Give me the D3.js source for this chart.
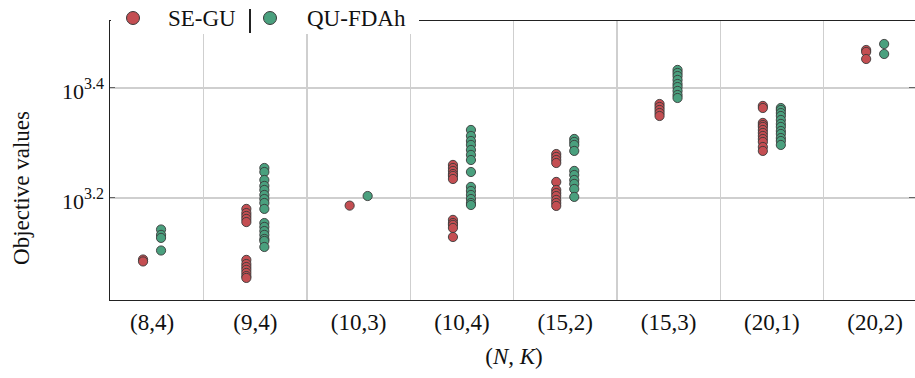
<!DOCTYPE html>
<html>
<head>
<meta charset="utf-8">
<script src="https://cdn.jsdelivr.net/npm/d3@7"></script>
<style>
body { margin: 0; background: #fff; }
text { fill: #111; }
line { shape-rendering: crispEdges; }
</style>
</head>
<body>
<div id="chart"></div>
<script>
// categories (N,K)
const categories = ["(8,4)", "(9,4)", "(10,3)", "(10,4)", "(15,2)", "(15,3)", "(20,1)", "(20,2)"];

// objective values per category
const seguValues = [
    [1225, 1215],
    [1514, 1488, 1470, 1452, 1433, 1223, 1202, 1187, 1173, 1158, 1143, 1134],
    [1535],
    [1820, 1797, 1775, 1752, 1738, 1716, 1446, 1427, 1416, 1398, 1346],
    [1905, 1882, 1858, 1835, 1695, 1639, 1618, 1598, 1572, 1552, 1533],
    [2349, 2320, 2291, 2262, 2234],
    [2330, 2310, 2170, 2151, 2134, 2107, 2081, 2055, 2029, 2004, 1962, 1930],
    [2945, 2921, 2836]
];
const qufdahValues = [
    [1389, 1358, 1341, 1272],
    [1797, 1767, 1709, 1667, 1639, 1605, 1578, 1552, 1514, 1427, 1404, 1380, 1358, 1335, 1324, 1291],
    [1598],
    [2107, 2055, 2012, 1979, 1938, 1898, 1858, 1767, 1660, 1632, 1605, 1578, 1552, 1539],
    [2029, 2004, 1979, 1930, 1775, 1745, 1709, 1681, 1646, 1592],
    [2709, 2675, 2641, 2598, 2554, 2522, 2481, 2439, 2409],
    [2310, 2291, 2262, 2234, 2197, 2161, 2134, 2098, 2072, 2037, 2012, 1979],
    [3020, 2896]
];
const seriesNames = ["SE-GU", "QU-FDAh"];
const yTickExponents = [3.2, 3.4];
const yDomainExponents = [3.0145, 3.5236];

const colors = ["#c44e52", "#4aa07e"];
const serif = "Liberation Serif, Tinos, Noto Serif, FreeSerif, Nimbus Roman, DejaVu Serif, Times, serif";

// set the dimensions and margins of the graph
const margin = { top: 20, right: 0, bottom: 78, left: 109 },
    width = 915 - margin.left - margin.right,
    height = 378 - margin.top - margin.bottom;

const root = d3.select("#chart")
    .append("svg")
    .attr("width", 915)
    .attr("height", 378);

const svg = root.append("g")
    .attr("transform", `translate(${margin.left},${margin.top})`);

// x: one band per category, first band starts a bit left of the axis
const x = d3.scaleBand()
    .domain(categories)
    .range([-8.6, 817.8])
    .padding(0);

const y = d3.scaleLog()
    .domain(yDomainExponents.map(e => Math.pow(10, e)))
    .range([height, 0]);

// grid
svg.selectAll(".vgrid")
    .data(categories.slice(1))
    .enter()
    .append("line")
    .attr("x1", d => x(d)).attr("x2", d => x(d))
    .attr("y1", 0).attr("y2", height)
    .style("stroke", "#cfcfcf").style("stroke-width", 1.2);

svg.selectAll(".hgrid")
    .data(yTickExponents)
    .enter()
    .append("line")
    .attr("x1", 0).attr("x2", width)
    .attr("y1", d => y(Math.pow(10, d))).attr("y2", d => y(Math.pow(10, d)))
    .style("stroke", "#cfcfcf").style("stroke-width", 1.2);

// small inward ticks on both sides
yTickExponents.forEach(function (e) {
    const yy = y(Math.pow(10, e));
    svg.append("line").attr("x1", 0).attr("x2", 6).attr("y1", yy).attr("y2", yy)
        .style("stroke", "#666").style("stroke-width", 1);
    svg.append("line").attr("x1", width - 6).attr("x2", width).attr("y1", yy).attr("y2", yy)
        .style("stroke", "#666").style("stroke-width", 1);
});

// spines
svg.append("line").attr("x1", 0).attr("x2", width).attr("y1", 0).attr("y2", 0)
    .style("stroke", "#222").style("stroke-width", 1);
svg.append("line").attr("x1", 0).attr("x2", 0).attr("y1", 0).attr("y2", height)
    .style("stroke", "#222").style("stroke-width", 1);
svg.append("line").attr("x1", 0).attr("x2", width).attr("y1", height).attr("y2", height)
    .style("stroke", "#222").style("stroke-width", 1);

// points
const series = [seguValues, qufdahValues];
const offsets = [-9, 9];
series.forEach(function (vals, s) {
    const pts = [];
    vals.forEach(function (list, i) {
        list.forEach(v => pts.push({ key: categories[i], value: v }));
    });
    svg.append("g").selectAll("circle")
        .data(pts)
        .enter()
        .append("circle")
        .attr("cx", d => x(d.key) + x.bandwidth() / 2 + offsets[s])
        .attr("cy", d => y(d.value))
        .attr("r", 4.6)
        .style("fill", colors[s])
        .style("stroke", "#3a3a3a")
        .style("stroke-width", 0.9);
});

// y tick labels 10^e
const yLabels = svg.selectAll(".ylab")
    .data(yTickExponents)
    .enter()
    .append("text")
    .attr("text-anchor", "end")
    .attr("x", -5)
    .attr("y", d => y(Math.pow(10, d)) + 11)
    .attr("font-family", serif)
    .attr("font-size", 22);
yLabels.append("tspan").text("10");
yLabels.append("tspan")
    .attr("dy", -10)
    .attr("font-size", 16)
    .text(d => d.toFixed(1));

// x tick labels
svg.selectAll(".xlab")
    .data(categories)
    .enter()
    .append("text")
    .attr("text-anchor", "middle")
    .attr("x", d => x(d) + x.bandwidth() / 2)
    .attr("y", height + 30)
    .attr("font-family", serif)
    .attr("font-size", 23)
    .text(d => d);

// axis titles
const xt = svg.append("text")
    .attr("text-anchor", "middle")
    .attr("x", 514 - margin.left)
    .attr("y", height + 64)
    .attr("font-family", serif)
    .attr("font-size", 23);
xt.append("tspan").text("(");
xt.append("tspan").attr("font-style", "italic").text("N");
xt.append("tspan").text(", ");
xt.append("tspan").attr("font-style", "italic").text("K");
xt.append("tspan").text(")");

root.append("text")
    .attr("text-anchor", "middle")
    .attr("transform", "translate(29,188) rotate(-90)")
    .attr("font-family", serif)
    .attr("font-size", 23)
    .text("Objective values");

// legend sits on top of the upper spine
const legend = root.append("g");
legend.append("rect")
    .attr("x", 111).attr("y", 6).attr("width", 308).attr("height", 28)
    .style("fill", "#fff");
const legendX = [[133, 168], [270, 307]];
seriesNames.forEach(function (name, i) {
    legend.append("circle")
        .attr("cx", legendX[i][0]).attr("cy", 18).attr("r", 6.5)
        .style("fill", colors[i]).style("stroke", "#3a3a3a").style("stroke-width", 1);
    legend.append("text")
        .attr("x", legendX[i][1]).attr("y", 26)
        .attr("font-family", serif)
        .attr("font-size", 23)
        .text(name);
});
legend.append("line")
    .attr("x1", 250).attr("x2", 250).attr("y1", 9).attr("y2", 33)
    .style("stroke", "#222").style("stroke-width", 1.2);
</script>
</body>
</html>
